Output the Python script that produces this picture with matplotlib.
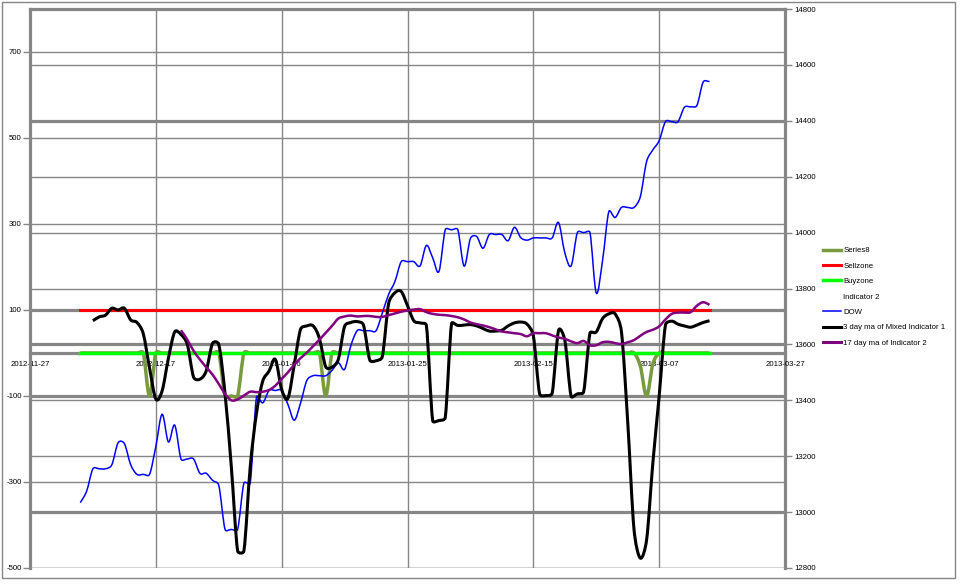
import numpy as np
import matplotlib
matplotlib.use('Agg')
import matplotlib.pyplot as plt
from matplotlib.path import Path
from matplotlib.patches import PathPatch, Rectangle
from matplotlib.lines import Line2D
from matplotlib.transforms import blended_transform_factory

plt.rcParams['font.family'] = ['Liberation Sans', 'DejaVu Sans']

# x axis: calendar days counted from 2012-11-27
tick_days = [0, 20, 40, 60, 80, 100, 120]
tick_labels = ['2012-11-27', '2012-12-17', '2013-01-06', '2013-01-25',
               '2013-02-15', '2013-03-07', '2013-03-27']

left_ticks = [-500, -300, -100, 100, 300, 500, 700]
right_ticks = [12800, 13000, 13200, 13400, 13600, 13800, 14000, 14200, 14400, 14600, 14800]

# DOW close per calendar day (weekends hold the last close), from day 8 to 108
dow_start = 8
dow = [13034, 13075, 13155, 13155, 13155, 13169, 13248, 13245, 13170, 13135,
       13135, 13135, 13235, 13350, 13251, 13311, 13190, 13190, 13190, 13139,
       13139, 13114, 13096, 12938, 12938, 12938, 13104, 13104, 13412, 13391,
       13435, 13435, 13435, 13385, 13329, 13390, 13471, 13488, 13488, 13488,
       13507, 13534, 13511, 13596, 13649, 13649, 13649, 13649, 13712, 13779,
       13825, 13896, 13896, 13896, 13881, 13954, 13910, 13861, 14010, 14010,
       14010, 13880, 13979, 13986, 13944, 13993, 13993, 13993, 13971, 14019,
       13982, 13973, 13981, 13981, 13981, 13981, 14036, 13928, 13881, 14000,
       14000, 14000, 13784, 13900, 14075, 14054, 14090, 14090, 14090, 14128,
       14254, 14296, 14329, 14397, 14397, 14397, 14448, 14450, 14455, 14539,
       14540]

# 3 day ma of Mixed Indicator 1, day 10 to 108
ma3_start = 10
ma3 = [75, 84, 88, 104, 100, 104, 77, 71, 45, -35,
       -107, -88, -12, 49, 43, 20, -56, -61, -42, 22,
       20, -95, -265, -460, -460, -265, -140, -65, -42, -15,
       -85, -105, -27, 55, 63, 63, 34, -32, -33, -15,
       62, 71, 73, 65, -16, -18, -8, 115, 140, 143,
       110, 75, 70, 64, -157, -157, -150, 68, 64, 65,
       66, 63, 57, 51, 51, 53, 63, 70, 72, 67,
       40, -95, -99, -93, 52, 30, -100, -95, -90, 46,
       49, 80, 91, 91, 50, -160, -410, -477, -435, -255,
       -100, 65, 74, 67, 63, 60, 65, 71, 75]

# 17 day ma of Indicator 2, day 24 to 108
ma17_start = 24
ma17 = [53, 31, 5, -15, -33, -50, -72, -95, -110, -108,
        -99, -90, -91, -90, -86, -76, -60, -45, -27, -12,
        1, 16, 31, 47, 63, 80, 85, 87, 85, 86,
        86, 84, 84, 88, 92, 96, 99, 101, 102, 95,
        91, 89, 88, 86, 83, 78, 71, 67, 64, 60,
        55, 50, 48, 46, 44, 39, 46, 46, 46, 41,
        36, 33, 27, 23, 28, 18, 18, 25, 26, 23,
        21, 25, 30, 40, 49, 54, 62, 78, 91, 94,
        94, 95, 110, 118, 112]

# Series8, day 8 to 108
series8_start = 8
series8 = [0, 0, 0, 0, 0, 0, 0, 0, 0, 0,
           0, -100, 0, 0, 0, 0, 0, 0, 0, 0,
           0, 0, 0, -100, -100, -100, 0, 0, 0, 0,
           0, 0, 0, 0, 0, 0, 0, 0, 0, -100,
           0, 0, 0, 0, 0, 0, 0, 0, 0, 0,
           0, 0, 0, 0, 0, 0, 0, 0, 0, 0,
           0, 0, 0, 0, 0, 0, 0, 0, 0, 0,
           0, 0, 0, 0, 0, 0, 0, 0, 0, 0,
           0, 0, 0, 0, 0, 0, 0, 0, 0, -30,
           -100, -25, 0, 0, 0, 0, 0, 0, 0, 0,
           0]

zone_days = (8, 108)
sellzone = 100
buyzone = 0

GRAY = '#868686'


def smooth_path(x, y, trans):
    # Excel style smoothed line: bezier through every point, arms worked out
    # in pixels and capped at half of the segment so flat runs stay flat
    pts = trans.transform(np.column_stack([np.asarray(x, float), np.asarray(y, float)]))
    ext = np.vstack([pts[0], pts, pts[-1]])
    verts = [pts[0]]
    codes = [Path.MOVETO]
    for i in range(len(pts) - 1):
        p0, p1, p2, p3 = ext[i], ext[i + 1], ext[i + 2], ext[i + 3]
        d12 = np.hypot(*(p2 - p1))
        d02 = np.hypot(*(p2 - p0))
        d13 = np.hypot(*(p3 - p1))
        f = min(1 / 6, d12 / (2 * d02)) if d02 > 0 else 0
        g = min(1 / 6, d12 / (2 * d13)) if d13 > 0 else 0
        verts += [p1 + f * (p2 - p0), p2 - g * (p3 - p1), p2]
        codes += [Path.CURVE4] * 3
    return Path(trans.inverted().transform(np.array(verts)), codes)


def add_series(ax, start, values, color, lw, z, trans):
    days = np.arange(start, start + len(values))
    patch = PathPatch(smooth_path(days, values, trans), fill=False, edgecolor=color,
                      lw=lw, zorder=z, joinstyle='round', capstyle='butt',
                      transform=trans)
    ax.add_patch(patch)


fig = plt.figure(figsize=(9.6, 5.84), dpi=100)
ax = fig.add_axes([30 / 960, 1 - 568 / 584, 755 / 960, 559 / 584])
ax2 = ax.twinx()
ax.set_zorder(ax2.get_zorder() + 1)
ax.patch.set_visible(False)

ax.set_xlim(0, 120)
ax.set_ylim(-500, 800)
ax2.set_ylim(12800, 14800)

# gridlines
ax.set_xticks(tick_days, tick_labels)
ax.set_yticks(left_ticks, [str(v) for v in left_ticks])
ax2.set_yticks(right_ticks, [str(v) for v in right_ticks])
ax.grid(True, color=GRAY, lw=1.0, zorder=0)
ax.set_axisbelow(True)
rt = blended_transform_factory(ax.transAxes, ax2.transData)
for v in right_ticks:
    thick = v in (14400, 13600, 13000)
    ax.add_line(Line2D([0, 1], [v, v], transform=rt, color=GRAY,
                       lw=2.3 if thick else 1.0, zorder=0.5))
for v in (100, -100):
    ax.axhline(v, color=GRAY, lw=2.3, zorder=0.5)

# spines
for s in ['left', 'top', 'bottom']:
    ax.spines[s].set_color(GRAY)
    ax.spines[s].set_linewidth(2.3)
ax.spines['right'].set_visible(False)
ax.spines['bottom'].set_position(('data', 0))
for s in ['left', 'top', 'bottom']:
    ax2.spines[s].set_visible(False)
ax2.spines['right'].set_color(GRAY)
ax2.spines['right'].set_linewidth(2.3)

ax.tick_params(axis='x', length=0, pad=5.5, labelsize=5.6, colors='black')
ax.tick_params(axis='y', length=5, width=1, color=GRAY, pad=1, labelsize=5.6)
ax2.tick_params(axis='y', length=5, width=1, color=GRAY, pad=1.5, labelsize=5.6)

# series
zd = np.arange(zone_days[0], zone_days[1] + 1)
add_series(ax, series8_start, series8, '#7A9A40', 2.5, 2, ax.transData)
ax.plot(zd, np.full(len(zd), sellzone), color='#FF0000', lw=2.2, zorder=3)
ax.plot(zd, np.full(len(zd), buyzone), color='#00FF00', lw=2.5, zorder=4)
add_series(ax, dow_start, dow, '#0000FF', 1.1, 5, ax2.transData)
add_series(ax, ma3_start, ma3, '#000000', 2.2, 6, ax.transData)
add_series(ax, ma17_start, ma17, '#800080', 1.8, 7, ax.transData)

# legend
handles = [Line2D([], [], color='#7A9A40', lw=2.5),
           Line2D([], [], color='#FF0000', lw=2.2),
           Line2D([], [], color='#00FF00', lw=2.5),
           Line2D([], [], color='none', lw=1),
           Line2D([], [], color='#0000FF', lw=1.1),
           Line2D([], [], color='#000000', lw=2.2),
           Line2D([], [], color='#800080', lw=2.2)]
labels = ['Series8', 'Sellzone', 'Buyzone', 'Indicator 2', 'DOW',
          '3 day ma of Mixed Indicator 1', '17 day ma of Indicator 2']
fig.legend(handles, labels, loc='upper left', bbox_to_anchor=(823 / 960, 1 - 247 / 584),
           frameon=False, fontsize=5.6, handlelength=2.3, handletextpad=0.3,
           labelspacing=1.02, borderpad=0, borderaxespad=0)

# chart border
fig.patches.append(Rectangle((1.5 / 960, 6 / 584), 953 / 960, 576.5 / 584,
                             transform=fig.transFigure, fill=False,
                             edgecolor=GRAY, lw=1.0))

fig.savefig('out.png', dpi=100)
